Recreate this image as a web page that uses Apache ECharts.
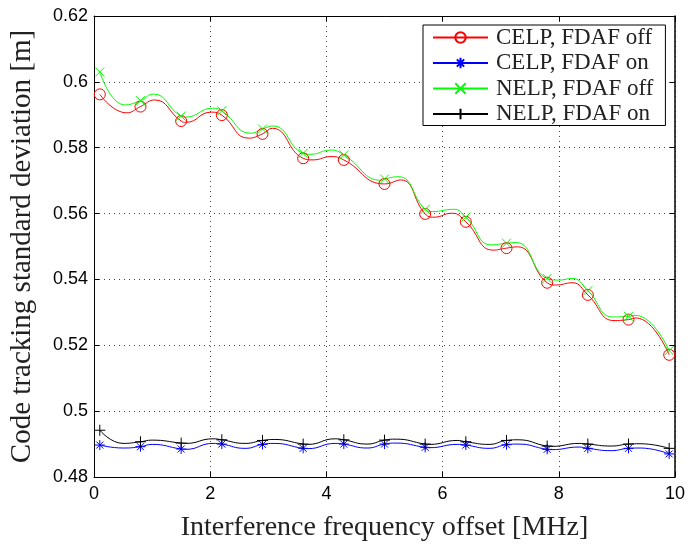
<!DOCTYPE html>
<html>
<head>
<meta charset="utf-8">
<script src="https://cdn.jsdelivr.net/npm/echarts@6/dist/echarts.min.js"></script>
<style>
  html, body { margin: 0; padding: 0; background: #fff; }
  #chart { width: 688px; height: 549px; }
</style>
</head>
<body>
<div id="chart"></div>
<script>
// Frequency offsets (MHz) where the measured points carry a marker
const markerX = [0.1, 0.8, 1.5, 2.2, 2.9, 3.6, 4.3, 5.0, 5.7, 6.4, 7.1, 7.8, 8.5, 9.2, 9.9];

// Axis ticks
const xTicks = [0, 2, 4, 6, 8, 10];
const yTicks = [0.48, 0.5, 0.52, 0.54, 0.56, 0.58, 0.6, 0.62];

// Code tracking standard deviation [m], points along each curve: [offset, value]
const celpFdafOff = [
  [0.1, 0.5962], [0.56, 0.5906], [0.8, 0.5925], [1.04, 0.5945], [1.5, 0.5881], [1.58, 0.5877],
  [2.02, 0.5908], [2.2, 0.5899], [2.66, 0.5829], [2.9, 0.5842], [3.07, 0.5859], [3.6, 0.5768],
  [3.77, 0.5763], [4.08, 0.5773], [4.3, 0.5763], [5.0, 0.5690], [5.28, 0.5702], [5.7, 0.5599],
  [5.85, 0.5589], [6.16, 0.5601], [6.4, 0.5575], [6.87, 0.5489], [7.1, 0.5495], [7.29, 0.5499],
  [7.8, 0.5390], [7.95, 0.5383], [8.23, 0.5390], [8.5, 0.5353], [8.95, 0.5275], [9.2, 0.5278],
  [9.33, 0.5283], [9.9, 0.5171]
];
const celpFdafOn = [
  [0.1, 0.4897], [0.5, 0.4888], [0.8, 0.4892], [1.0, 0.4899], [1.5, 0.4885], [1.58, 0.4884],
  [2.05, 0.4902], [2.2, 0.4900], [2.6, 0.4887], [2.9, 0.4899], [3.1, 0.4902], [3.6, 0.4887],
  [3.68, 0.4886], [4.15, 0.4902], [4.3, 0.4900], [4.7, 0.4888], [5.0, 0.4900], [5.2, 0.4903],
  [5.7, 0.4890], [5.78, 0.4889], [6.25, 0.4899], [6.4, 0.4897], [6.8, 0.4887], [7.1, 0.4898],
  [7.3, 0.4900], [7.8, 0.4884], [7.88, 0.4883], [8.35, 0.4891], [8.5, 0.4887], [8.9, 0.4880],
  [9.2, 0.4887], [9.4, 0.4888], [9.9, 0.4870]
];
const nelpFdafOff = [
  [0.1, 0.6030], [0.53, 0.5930], [0.8, 0.5943], [1.02, 0.5963], [1.5, 0.5896], [1.58, 0.5893],
  [2.04, 0.5920], [2.2, 0.5912], [2.7, 0.5844], [2.9, 0.5857], [3.08, 0.5866], [3.6, 0.5783],
  [3.72, 0.5780], [4.08, 0.5793], [4.3, 0.5778], [4.95, 0.5701], [5.0, 0.5705], [5.24, 0.5712],
  [5.7, 0.5613], [5.82, 0.5606], [6.19, 0.5613], [6.4, 0.5589], [6.84, 0.5505], [7.1, 0.5510],
  [7.27, 0.5512], [7.8, 0.5403], [8.0, 0.5398], [8.23, 0.5403], [8.5, 0.5366], [8.93, 0.5286],
  [9.2, 0.5288], [9.32, 0.5291], [9.9, 0.5184]
];
const nelpFdafOn = [
  [0.1, 0.4942], [0.5, 0.4902], [0.8, 0.4907], [1.0, 0.4912], [1.5, 0.4903], [1.58, 0.4902],
  [2.05, 0.4916], [2.2, 0.4913], [2.6, 0.4902], [2.9, 0.4911], [3.1, 0.4914], [3.6, 0.4900],
  [3.68, 0.4899], [4.15, 0.4916], [4.3, 0.4913], [4.7, 0.4900], [5.0, 0.4912], [5.2, 0.4915],
  [5.7, 0.4900], [5.78, 0.4899], [6.25, 0.4911], [6.4, 0.4907], [6.8, 0.4899], [7.1, 0.4911],
  [7.3, 0.4913], [7.8, 0.4894], [7.88, 0.4893], [8.35, 0.4902], [8.5, 0.4900], [8.9, 0.4894],
  [9.2, 0.4900], [9.4, 0.4901], [9.9, 0.4887]
];

const seriesNames = ['CELP, FDAF off', 'CELP, FDAF on', 'NELP, FDAF off', 'NELP, FDAF on'];

// Marker glyphs: asterisk, cross and plus drawn as stroked paths
const ASTERISK = 'path://M5,0L5,10M0,5L10,5M1.5,1.5L8.5,8.5M1.5,8.5L8.5,1.5';
const CROSS = 'path://M0,0L10,10M0,10L10,0';
const PLUS = 'path://M5,0L5,10M0,5L10,5';

const isMarker = x => markerX.some(m => Math.abs(m - x) < 1e-6);

function curve(name, points, color, symbol, size, fill) {
  return {
    name: name,
    type: 'line',
    data: points,
    smooth: 0.5,
    symbol: symbol,
    symbolSize: v => (isMarker(v[0]) ? size : 0),
    showSymbol: true,
    showAllSymbol: true,
    lineStyle: { color: color, width: 1 },
    itemStyle: { color: fill, borderColor: color, borderWidth: 1 },
    emphasis: { disabled: true },
    animation: false,
    z: 3
  };
}

const serif = 'Liberation Serif';
const sans = 'Liberation Sans';

const option = {
  backgroundColor: '#fff',
  animation: false,
  grid: { left: 90.5, right: 11, top: 16, bottom: 72, containLabel: false },
  legend: {
    orient: 'vertical',
    left: 423,
    top: 25,
    itemWidth: 55,
    itemHeight: 13,
    itemGap: 2.5,
    padding: [1, 12, 0, 9],
    borderColor: '#000',
    borderWidth: 1,
    backgroundColor: '#fff',
    z: 10,
    textStyle: { fontFamily: serif, fontSize: 23, color: '#222', lineHeight: 20, padding: [0, 0, 0, 3] },
    data: seriesNames
  },
  xAxis: [
    {
      type: 'value', position: 'bottom',
      min: xTicks[0], max: xTicks[xTicks.length - 1], interval: xTicks[1] - xTicks[0],
      name: 'Interference frequency offset [MHz]',
      nameLocation: 'middle', nameGap: 37,
      nameTextStyle: { fontFamily: serif, fontSize: 28, color: '#222' },
      axisLine: { onZero: false, lineStyle: { color: '#000', width: 1 } },
      axisTick: { inside: true, length: 5, lineStyle: { color: '#000' } },
      axisLabel: { fontFamily: sans, fontSize: 18, color: '#000', margin: 8 },
      splitLine: { show: true, lineStyle: { color: '#444', type: [1, 4], width: 1 } }
    },
    {
      type: 'value', position: 'top',
      min: xTicks[0], max: xTicks[xTicks.length - 1], interval: xTicks[1] - xTicks[0],
      axisLine: { onZero: false, lineStyle: { color: '#000', width: 1 } },
      axisTick: { inside: true, length: 5, lineStyle: { color: '#000' } },
      axisLabel: { show: false },
      splitLine: { show: false }
    }
  ],
  yAxis: [
    {
      type: 'value', position: 'left',
      min: yTicks[0], max: yTicks[yTicks.length - 1], interval: 0.02,
      name: 'Code tracking standard deviation [m]',
      nameLocation: 'middle', nameGap: 57,
      nameTextStyle: { fontFamily: serif, fontSize: 29, color: '#222' },
      axisLine: { onZero: false, lineStyle: { color: '#000', width: 1 } },
      axisTick: { inside: true, length: 5, lineStyle: { color: '#000' } },
      axisLabel: {
        fontFamily: sans, fontSize: 18, color: '#000', margin: 6,
        formatter: v => String(+v.toFixed(2))
      },
      splitLine: { show: true, lineStyle: { color: '#444', type: [1, 4], width: 1 } }
    },
    {
      type: 'value', position: 'right',
      min: yTicks[0], max: yTicks[yTicks.length - 1], interval: 0.02,
      axisLine: { onZero: false, lineStyle: { color: '#000', width: 1.5 } },
      axisTick: { inside: true, length: 5, lineStyle: { color: '#000' } },
      axisLabel: { show: false },
      splitLine: { show: false }
    }
  ],
  series: [
    curve(seriesNames[0], celpFdafOff, '#ff0000', 'circle', 11, '#fff'),
    curve(seriesNames[1], celpFdafOn, '#0000ff', ASTERISK, 10, '#0000ff'),
    curve(seriesNames[2], nelpFdafOff, '#00ff00', CROSS, 9, '#00ff00'),
    curve(seriesNames[3], nelpFdafOn, '#000000', PLUS, 11, '#000000')
  ]
};

// Circle markers are hollow: transparent fill on the plot
option.series[0].itemStyle.color = 'rgba(255,255,255,0)';

const chart = echarts.init(document.getElementById('chart'), null, { renderer: 'canvas' });
chart.setOption(option);
</script>
</body>
</html>
